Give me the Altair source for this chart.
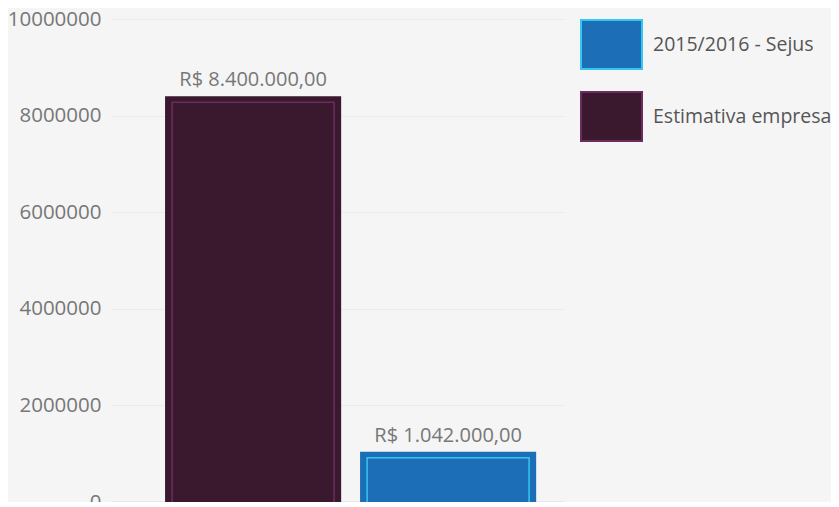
import altair as alt
import pandas as pd

# ---- data ----
series = ["Estimativa empresa", "2015/2016 - Sejus"]
values = [8400000, 1042000]
y_ticks = [0, 2000000, 4000000, 6000000, 8000000, 10000000]
legend_order = ["2015/2016 - Sejus", "Estimativa empresa"]


def brl(v):
    s = f"{v:,.2f}"
    s = s.replace(",", "X").replace(".", ",").replace("X", ".")
    return "R$ " + s


labels = [brl(v) for v in values]

df = pd.DataFrame({"serie": series, "valor": values, "rotulo": labels})

FONT = "Open Sans"
fill_range = ["#1c6fb6", "#3a182e"]
line_range = ["#35c6f2", "#6b2d60"]

legend_kw = dict(
    title=None, orient="none", legendX=475, legendY=0,
    symbolType="M-1.245,-1H1.245V1H-1.245Z", symbolSize=2401,
    symbolStrokeWidth=2, symbolOpacity=1,
    labelFontSize=19.5, labelColor="#555555", labelFont=FONT,
    labelOffset=16, rowPadding=15, labelLimit=400,
)

x_enc = alt.X(
    "serie:N",
    sort=series,
    scale=alt.Scale(paddingInner=0.097, paddingOuter=0.21, align=0.66),
    axis=alt.Axis(labels=False, ticks=False, title=None, grid=False,
                  domainColor="#d9d9d9", domainWidth=2),
)
y_enc = alt.Y(
    "valor:Q",
    scale=alt.Scale(domain=[0, 10000000], nice=False),
    axis=alt.Axis(values=y_ticks, format="d", title=None, domain=False,
                  ticks=False, labelPadding=10, labelFontSize=20.5,
                  labelColor="#777777", labelFont=FONT,
                  gridColor="#ebebeb", gridWidth=1),
)

base = alt.Chart(df)

outer = base.mark_bar(strokeWidth=0).encode(
    x=x_enc,
    y=y_enc,
    color=alt.Color(
        "serie:N",
        scale=alt.Scale(domain=legend_order, range=fill_range),
        legend=alt.Legend(**legend_kw),
    ),
    stroke=alt.Stroke(
        "serie:N",
        scale=alt.Scale(domain=legend_order, range=line_range),
        legend=alt.Legend(**legend_kw),
    ),
)

inner = base.mark_bar(filled=False, strokeWidth=1.5, yOffset=6, y2Offset=-2,
                      width=alt.RelativeBandSize(0.92)).encode(
    x=alt.X("serie:N", sort=series),
    y=alt.Y("valor:Q"),
    stroke=alt.Stroke("serie:N",
                      scale=alt.Scale(domain=legend_order, range=line_range),
                      legend=None),
)

text = base.mark_text(baseline="alphabetic", dy=-10, fontSize=20,
                      color="#777777", font=FONT).encode(
    x=alt.X("serie:N", sort=series),
    y=alt.Y("valor:Q"),
    text="rotulo:N",
)

chart = (
    alt.layer(outer, inner, text)
    .properties(
        width=453,
        height=483,
        background="#f5f5f5",
        autosize=alt.AutoSizeParams(type="none"),
        padding={"left": 103, "top": 11, "right": 267, "bottom": 0},
    )
    .configure_view(stroke=None)
)

chart.save("out.html", embed_options={"renderer": "svg", "actions": False})
